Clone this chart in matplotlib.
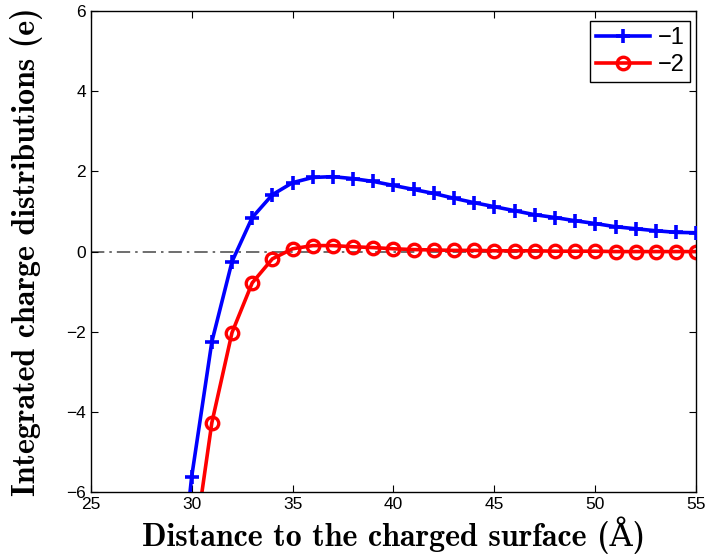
import matplotlib
matplotlib.use("Agg")
import matplotlib.pyplot as plt
import numpy as np

# distance to surface (Angstrom)
dist = np.arange(29, 56)

# integrated charge, ion valence -1 (value at 29 lies far below the axes)
q_m1 = [-10.3, -5.62, -2.25, -0.25, 0.85, 1.42, 1.72, 1.85, 1.87, 1.82,
        1.75, 1.65, 1.55, 1.45, 1.33, 1.22, 1.12, 1.02, 0.92, 0.85,
        0.77, 0.70, 0.62, 0.57, 0.52, 0.48, 0.47]

# integrated charge, ion valence -2
q_m2 = [-14.0, -7.8, -4.27, -2.02, -0.78, -0.18, 0.07, 0.15, 0.15, 0.12,
        0.10, 0.07, 0.05, 0.04, 0.03, 0.03, 0.02, 0.02, 0.02, 0.01,
        0.01, 0.01, 0.0, 0.0, 0.0, 0.0, 0.0]

labels = ["\u22121", "\u22122"]

plt.rcParams['font.family'] = ['Liberation Sans', 'DejaVu Sans']

fig = plt.figure(figsize=(7.09, 5.56), dpi=100)
ax = fig.add_axes([0.128, 0.115, 0.854, 0.865])

ax.axhline(0, color='#555555', lw=1.2, ls=(0, (8, 3, 1.5, 3)), zorder=1)
ax.plot(dist, q_m1, color='#0000ff', lw=2.6, marker='+', ms=10, mew=2.6,
        label=labels[0], zorder=3)
ax.plot(dist, q_m2, color='#ff0000', lw=2.6, marker='o', ms=9, mew=2.4,
        mfc='none', label=labels[1], zorder=2)

ax.set_xlim(25, 55)
ax.set_ylim(-6, 6)
ax.set_xticks(np.arange(25, 56, 5))
ax.set_yticks(np.arange(-6, 7, 2))
ax.tick_params(direction='in', top=True, right=True, labelsize=12.5, length=5)
for s in ax.spines.values():
    s.set_linewidth(1.0)

lab_font = dict(family=['cmb10', 'DejaVu Serif'], fontsize=23)
ax.set_xlabel("Distance to the charged surface (\u00c5)", **lab_font, labelpad=3.5)
ax.set_ylabel("Integrated charge distributions (e)", **lab_font, labelpad=17)

leg = ax.legend(loc='upper right', bbox_to_anchor=(0.99, 0.979), fontsize=17,
                fancybox=False, framealpha=1, edgecolor='black',
                handlelength=2.3, borderaxespad=0, borderpad=0.25,
                labelspacing=0.2, handletextpad=0.3)
leg.get_frame().set_linewidth(1.0)

fig.savefig("out.png", dpi=100)
